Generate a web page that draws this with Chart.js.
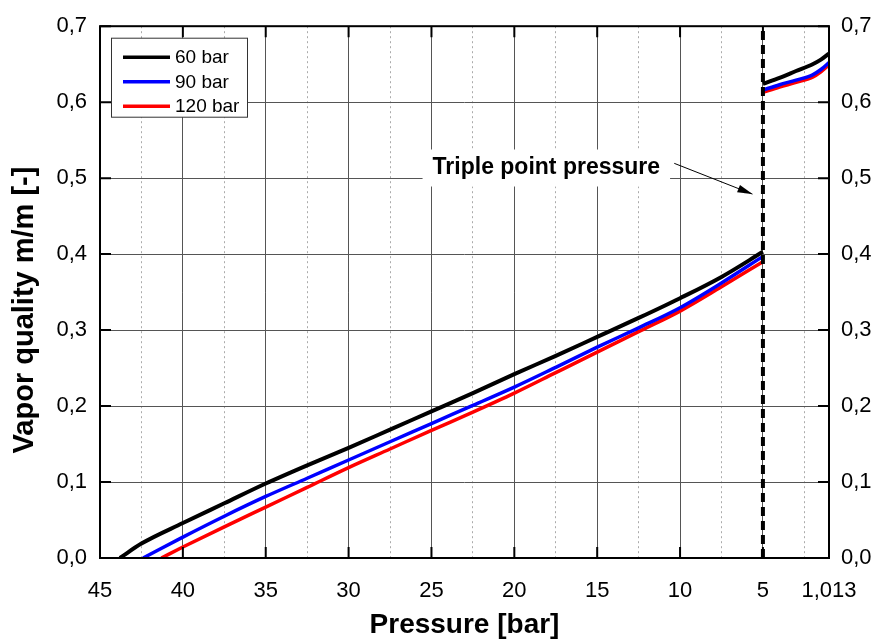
<!DOCTYPE html>
<html>
<head>
<meta charset="utf-8">
<script src="https://cdn.jsdelivr.net/npm/chart.js@4.4.1/dist/chart.umd.min.js"></script>
<style>
  html, body { margin: 0; padding: 0; background: #fff; }
</style>
</head>
<body>
<canvas id="myChart" width="877" height="642"></canvas>
<script>
// series
const seriesLabels = ['60 bar', '90 bar', '120 bar'];
const seriesColors = ['#000000', '#0000ff', '#ff0000'];

// liquid side (down to the triple point)
const pressureLow60 = [43.8, 42.5, 40, 37.5, 35, 32.5, 30, 27.5, 25, 22.5, 20, 17.5, 15, 12.5, 10, 7.5, 5];
const qualityLow60 = [0, 0.019, 0.046, 0.072, 0.098, 0.122, 0.145, 0.169, 0.193, 0.217, 0.242, 0.266, 0.291, 0.316, 0.342, 0.370, 0.403];
const pressureLow90 = [42.4, 40, 37.5, 35, 32.5, 30, 27.5, 25, 22.5, 20, 17.5, 15, 12.5, 10, 7.5, 5];
const qualityLow90 = [0, 0.0275, 0.055, 0.081, 0.105, 0.129, 0.153, 0.177, 0.201, 0.225, 0.251, 0.2775, 0.303, 0.3295, 0.362, 0.397];
const pressureLow120 = [41.3, 40, 37.5, 35, 32.5, 30, 27.5, 25, 22.5, 20, 17.5, 15, 12.5, 10, 7.5, 5];
const qualityLow120 = [0, 0.0144, 0.041, 0.067, 0.093, 0.119, 0.1435, 0.168, 0.192, 0.217, 0.244, 0.271, 0.298, 0.325, 0.357, 0.390];

// solid side (below the triple point)
const pressureHigh = [5, 4, 3, 2, 1.5, 1.013];
const qualityHigh60 = [0.624, 0.632, 0.641, 0.650, 0.656, 0.664];
const qualityHigh90 = [0.616, 0.623, 0.629, 0.636, 0.643, 0.652];
const qualityHigh120 = [0.613, 0.620, 0.626, 0.633, 0.640, 0.649];

// triple point marker
const triplePressure = [5, 5];
const tripleQuality = [0, 0.7];

// ticks
const xTicks = [45, 40, 35, 30, 25, 20, 15, 10, 5, 1.013];
const xMinorTicks = [42.5, 37.5, 32.5, 27.5, 22.5, 17.5, 12.5, 7.5, 2.5];
const yTicks = [0, 0.1, 0.2, 0.3, 0.4, 0.5, 0.6, 0.7];

const fontFamily = '"Liberation Sans", Arial, sans-serif';

function toPoints(px, qy) {
    return px.map(function(p, i) { return {x: p, y: qy[i]}; });
}
function curve(pl, ql, qh) {
    return toPoints(pl, ql).concat([{x: 5, y: null}], toPoints(pressureHigh, qh));
}
function comma(v) { return String(v).replace('.', ','); }

const lows = [[pressureLow60, qualityLow60, qualityHigh60], [pressureLow90, qualityLow90, qualityHigh90], [pressureLow120, qualityLow120, qualityHigh120]];

let datasets = lows.map(function(s, i) {
    return {
        label: seriesLabels[i],
        data: curve(s[0], s[1], s[2]),
        borderColor: seriesColors[i],
        borderWidth: i == 0 ? 4 : 3.5,
        pointRadius: 0,
        cubicInterpolationMode: 'monotone',
        spanGaps: false,
        order: 1
    };
});
datasets.push({
    label: 'Triple point pressure',
    data: toPoints(triplePressure, tripleQuality),
    borderColor: '#000',
    borderWidth: 4,
    borderDash: [9, 5],
    pointRadius: 0,
    order: 0
});

// frame, inward ticks, legend, y title and annotation
const extras = {
    id: 'extras',
    afterDraw(chart) {
        const ctx = chart.ctx;
        const a = chart.chartArea;
        const xs = chart.scales.x, ys = chart.scales.y;
        ctx.save();

        // y axis title (sits a bit below the axis middle)
        ctx.save();
        ctx.translate(25, 310);
        ctx.rotate(-Math.PI / 2);
        ctx.font = 'bold 29px ' + fontFamily;
        ctx.fillStyle = '#000';
        ctx.textAlign = 'center';
        ctx.textBaseline = 'middle';
        ctx.fillText('Vapor quality m/m [-]', 0, 0);
        ctx.restore();

        // annotation
        ctx.font = 'bold 23px ' + fontFamily;
        const label = 'Triple point pressure';
        const tx = xs.getPixelForValue(18.07), ty = ys.getPixelForValue(0.514);
        const tw = ctx.measureText(label).width;
        ctx.fillStyle = '#fff';
        ctx.fillRect(tx - tw / 2 - 10, ty - 18, tw + 20, 37);
        ctx.fillStyle = '#000';
        ctx.textAlign = 'center';
        ctx.textBaseline = 'middle';
        ctx.fillText(label, tx, ty);
        const x1 = xs.getPixelForValue(10.35), y1 = ys.getPixelForValue(0.5195);
        const x2 = xs.getPixelForValue(5.63), y2 = ys.getPixelForValue(0.479);
        ctx.strokeStyle = '#000';
        ctx.lineWidth = 1;
        ctx.beginPath();
        ctx.moveTo(x1, y1);
        ctx.lineTo(x2, y2);
        ctx.stroke();
        const ang = Math.atan2(y2 - y1, x2 - x1);
        ctx.beginPath();
        ctx.moveTo(x2, y2);
        ctx.lineTo(x2 - 15 * Math.cos(ang) + 4 * Math.sin(ang), y2 - 15 * Math.sin(ang) - 4 * Math.cos(ang));
        ctx.lineTo(x2 - 15 * Math.cos(ang) - 4 * Math.sin(ang), y2 - 15 * Math.sin(ang) + 4 * Math.cos(ang));
        ctx.closePath();
        ctx.fill();

        // frame
        ctx.lineWidth = 2;
        ctx.strokeRect(a.left, a.top, a.right - a.left, a.bottom - a.top);

        // inward ticks
        ctx.beginPath();
        xTicks.forEach(function(v) {
            const p = xs.getPixelForValue(v);
            ctx.moveTo(p, a.bottom); ctx.lineTo(p, a.bottom - 11);
            ctx.moveTo(p, a.top); ctx.lineTo(p, a.top + 11);
        });
        yTicks.forEach(function(v) {
            const p = ys.getPixelForValue(v);
            ctx.moveTo(a.left, p); ctx.lineTo(a.left + 11, p);
            ctx.moveTo(a.right, p); ctx.lineTo(a.right - 11, p);
        });
        ctx.stroke();

        // legend
        const lx = a.left + 11.5, ly = a.top + 12;
        ctx.fillStyle = '#fff';
        ctx.fillRect(lx, ly, 136, 79);
        ctx.lineWidth = 1;
        ctx.strokeStyle = '#333';
        ctx.strokeRect(lx, ly, 136, 79);
        ctx.font = '19px ' + fontFamily;
        ctx.textAlign = 'left';
        chart.data.datasets.slice(0, 3).forEach(function(ds, i) {
            const yy = a.top + 31 + i * 24.5;
            ctx.strokeStyle = ds.borderColor;
            ctx.lineWidth = 3.5;
            ctx.beginPath();
            ctx.moveTo(a.left + 23, yy);
            ctx.lineTo(a.left + 70, yy);
            ctx.stroke();
            ctx.fillStyle = '#000';
            ctx.fillText(ds.label, a.left + 75, yy + 1);
        });
        ctx.restore();
    }
};

let myChart = new Chart(document.getElementById('myChart').getContext('2d'), {
    type: 'line',
    data: { datasets: datasets },
    options: {
        responsive: false,
        animation: false,
        layout: { padding: { top: 22, left: 0, right: 0, bottom: 0 } },
        plugins: { legend: { display: false }, tooltip: { enabled: false } },
        scales: {
            x: {
                type: 'linear', position: 'bottom', reverse: true, min: 1.013, max: 45,
                afterBuildTicks: function(s) { s.ticks = xTicks.map(function(v) { return {value: v}; }); },
                afterFit: function(s) { s.height = 84; },
                ticks: { autoSkip: false, maxRotation: 0, color: '#000', padding: 20,
                         font: { family: fontFamily, size: 22 }, callback: function(v) { return comma(v); } },
                grid: { color: '#555', lineWidth: 1, drawTicks: false },
                border: { display: false },
                title: { display: true, text: 'Pressure [bar]', color: '#000',
                         font: { family: fontFamily, size: 28, weight: 'bold' }, padding: { top: 0, bottom: 0 } }
            },
            xMinor: {
                type: 'linear', position: 'bottom', reverse: true, min: 1.013, max: 45,
                afterBuildTicks: function(s) { s.ticks = xMinorTicks.map(function(v) { return {value: v}; }); },
                ticks: { display: false },
                grid: { color: '#aaa', lineWidth: 1, drawTicks: false },
                border: { display: false, dash: [2, 3] }
            },
            y: {
                position: 'left', min: 0, max: 0.7,
                afterBuildTicks: function(s) { s.ticks = yTicks.map(function(v) { return {value: v}; }); },
                afterFit: function(s) { s.width = 100; },
                ticks: { color: '#000', padding: 13, font: { family: fontFamily, size: 22 },
                         callback: function(v) { return v.toFixed(1).replace('.', ','); } },
                grid: { color: '#555', lineWidth: 1, drawTicks: false },
                border: { display: false }
            },
            y2: {
                position: 'right', min: 0, max: 0.7,
                afterBuildTicks: function(s) { s.ticks = yTicks.map(function(v) { return {value: v}; }); },
                afterFit: function(s) { s.width = 48; },
                ticks: { color: '#000', padding: 12, font: { family: fontFamily, size: 22 },
                         callback: function(v) { return v.toFixed(1).replace('.', ','); } },
                grid: { display: false, drawTicks: false },
                border: { display: false }
            }
        }
    },
    plugins: [extras]
});
</script>
</body>
</html>
